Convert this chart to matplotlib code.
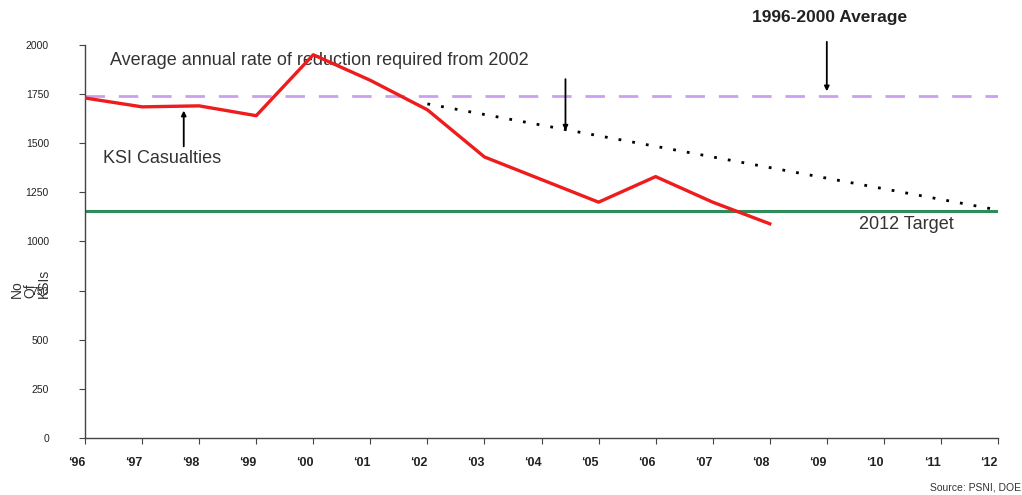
import matplotlib
matplotlib.use('Agg')
import numpy as np
import matplotlib.pyplot as plt

# KSI casualties, Northern Ireland
years = [1996, 1997, 1998, 1999, 2000, 2001, 2002, 2003, 2004, 2005, 2006, 2007, 2008]
ksi = [1730, 1685, 1690, 1640, 1950, 1820, 1670, 1430, 1315, 1200, 1330, 1200, 1090]

avg_1996_2000 = 1740
target_2012 = 1155
required_years = [2002, 2012]
required_values = [1700, 1160]

tick_years = list(range(1996, 2013))
tick_labels = ['\u2018%02d' % (y % 100) for y in tick_years]
y_ticks = [0, 250, 500, 750, 1000, 1250, 1500, 1750, 2000]

plt.rcParams['font.family'] = ['Liberation Sans', 'DejaVu Sans']

fig = plt.figure(figsize=(10.22, 4.95), dpi=100)
ax = fig.add_axes([0.0832, 0.1152, 0.8933, 0.794])

ax.axhline(avg_1996_2000, color='#c9a0ec', linewidth=2, dashes=(7, 5), zorder=2)
ax.axhline(target_2012, color='#2e8b5a', linewidth=2.2, zorder=2)
ax.plot(required_years, required_values, color='black', linewidth=2,
        linestyle=(0, (1, 4)), zorder=3)
ax.plot(years, ksi, color='#ee1c1c', linewidth=2.4, zorder=4)

ax.set_xlim(1996, 2012)
ax.set_ylim(0, 2000)
ax.set_xticks(tick_years)
ax.set_xticklabels(tick_labels, fontsize=9, fontweight='bold', color='#222222',
                   ha='right')
ax.set_yticks(y_ticks)
ax.set_yticklabels([str(v) for v in y_ticks], fontsize=7.5, color='#222222')
ax.tick_params(axis='y', length=4, pad=22, color='#444444')
ax.tick_params(axis='x', length=4, pad=10, color='#444444')
for side in ['top', 'right']:
    ax.spines[side].set_visible(False)
for side in ['left', 'bottom']:
    ax.spines[side].set_color('#444444')
    ax.spines[side].set_linewidth(1)

# stacked, rotated axis title
fig.text(30 / 1022, 1 - 283 / 495, 'No\nOf\nKSIs', rotation=90, ha='center',
         va='center', multialignment='left', fontsize=10, color='#333333',
         linespacing=0.95)

# annotations
text_kw = dict(fontsize=13, color='#333333')
ax.text(1996.43, 1920, 'Average annual rate of reduction required from 2002',
        va='center', ha='left', **text_kw)
ax.annotate('', xy=(2004.42, 1550), xytext=(2004.42, 1840),
            arrowprops=dict(arrowstyle='-|>', color='black', lw=1.3,
                            mutation_scale=7))

ax.text(1996.31, 1420, 'KSI Casualties', va='center', ha='left', **text_kw)
ax.annotate('', xy=(1997.73, 1680), xytext=(1997.73, 1470),
            arrowprops=dict(arrowstyle='-|>', color='black', lw=1.3,
                            mutation_scale=7))

ax.text(2009.05, 2140, '1996-2000 Average', va='center', ha='center',
        fontsize=12.5, fontweight='bold', color='#222222', clip_on=False)
ax.annotate('', xy=(2009.0, 1750), xytext=(2009.0, 2030),
            arrowprops=dict(arrowstyle='-|>', color='black', lw=1.3,
                            mutation_scale=7), annotation_clip=False)

ax.text(2010.4, 1085, '2012 Target', va='center', ha='center', **text_kw)

fig.text(930 / 1022, 1 - 488 / 495, 'Source: PSNI, DOE', ha='left',
         va='center', fontsize=7.5, color='#333333')

plt.savefig('out.png', dpi=100)
